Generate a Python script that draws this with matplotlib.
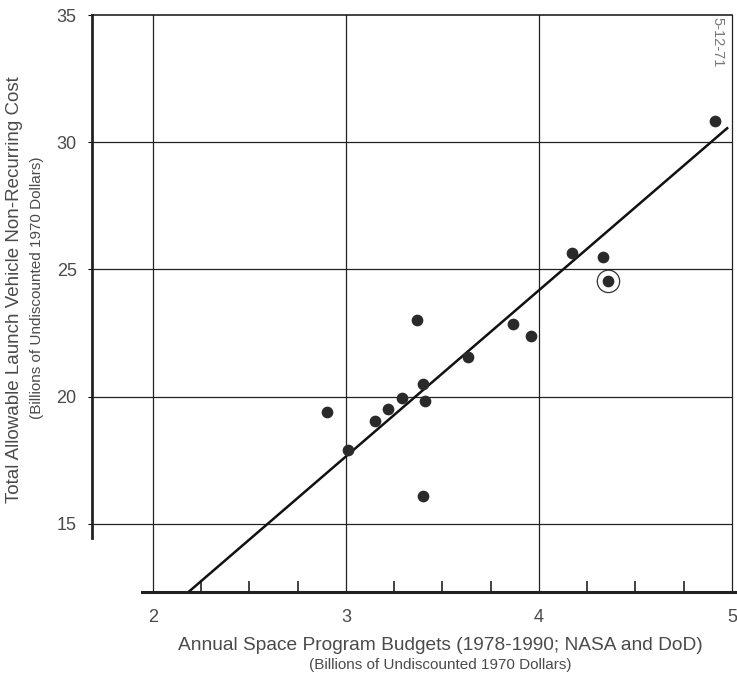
import matplotlib.pyplot as plt
import numpy as np

# Dados (bilhões de dólares de 1970)
budget = [2.90, 3.01, 3.15, 3.22, 3.29, 3.37, 3.40, 3.41, 3.40, 3.63, 3.865, 3.96, 4.17, 4.33, 4.36, 4.91]
cost = [19.41, 17.91, 19.06, 19.53, 19.96, 23.03, 20.51, 19.84, 16.10, 21.54, 22.87, 22.40, 25.63, 25.47, 24.53, 30.83]

# Ponto destacado com círculo
circled_x = [4.36]
circled_y = [24.53]

# Reta de tendência (extremos)
fit_x = [2.19, 4.975]
fit_y = [12.36, 30.55]

x_ticks = [2, 3, 4, 5]
y_ticks = [15, 20, 25, 30, 35]
x_minor = [2.25, 2.5, 2.75, 3.25, 3.5, 3.75, 4.25, 4.5, 4.75]

plt.rcParams['font.family'] = ['Liberation Sans', 'DejaVu Sans']
text_color = '#4a4a4a'

fig = plt.figure(figsize=(7.37, 6.80), dpi=100)
ax = fig.add_axes([92 / 737, (680 - 592) / 680, (737 - 92) / 737, (592 - 15) / 680])
ax.set_xlim(1.684, 5.026)
ax.set_ylim(12.32, 35)

# Grade
for xv in x_ticks:
    ax.axvline(xv, color='#222222', lw=0.9, zorder=1)
ax.hlines(y_ticks[:-1], 1.684, 5.0, color='#222222', lw=0.9, zorder=1)

# Eixos
ax.spines['right'].set_visible(False)
ax.spines['left'].set_linewidth(2.0)
ax.spines['left'].set_bounds(14.45, 35)
ax.spines['bottom'].set_linewidth(2.2)
ax.spines['bottom'].set_bounds(1.943, 5.03)
ax.spines['top'].set_linewidth(1.2)
ax.spines['top'].set_bounds(1.684, 5.0)
for s in ax.spines.values():
    s.set_color('#222222')

ax.set_xticks(x_ticks)
ax.set_xticks(x_minor, minor=True)
ax.set_yticks(y_ticks)
ax.tick_params(axis='x', which='major', length=0, pad=12, labelsize=13, labelcolor=text_color)
ax.tick_params(axis='x', which='minor', direction='in', length=8, width=1.2, color='#222222')
ax.tick_params(axis='y', which='major', length=3, pad=8, labelsize=13, labelcolor=text_color)

# Dados
ax.plot(fit_x, fit_y, color='#111111', lw=1.8, zorder=3)
ax.scatter(budget, cost, s=55, color='#2a2a2a', zorder=4)
ax.scatter(circled_x, circled_y, s=260, facecolors='none', edgecolors='#333333', linewidths=0.9, zorder=4)

# Rótulos
fig.text(15 / 737, 1 - 290 / 680, 'Total Allowable Launch Vehicle Non-Recurring Cost',
         rotation=90, ha='center', va='center', fontsize=13.5, color=text_color)
fig.text(37 / 737, 1 - 288 / 680, '(Billions of Undiscounted 1970 Dollars)',
         rotation=90, ha='center', va='center', fontsize=11, color=text_color)
fig.text(440 / 737, 1 - 645 / 680, 'Annual Space Program Budgets (1978-1990; NASA and DoD)',
         ha='center', va='center', fontsize=13.8, color=text_color)
fig.text(440 / 737, 1 - 665 / 680, '(Billions of Undiscounted 1970 Dollars)',
         ha='center', va='center', fontsize=11, color=text_color)
fig.text(717 / 737, 1 - 42 / 680, '5-12-71', rotation=270, ha='center', va='center',
         fontsize=10.5, color='#777777')

fig.savefig('out.png', dpi=100)
